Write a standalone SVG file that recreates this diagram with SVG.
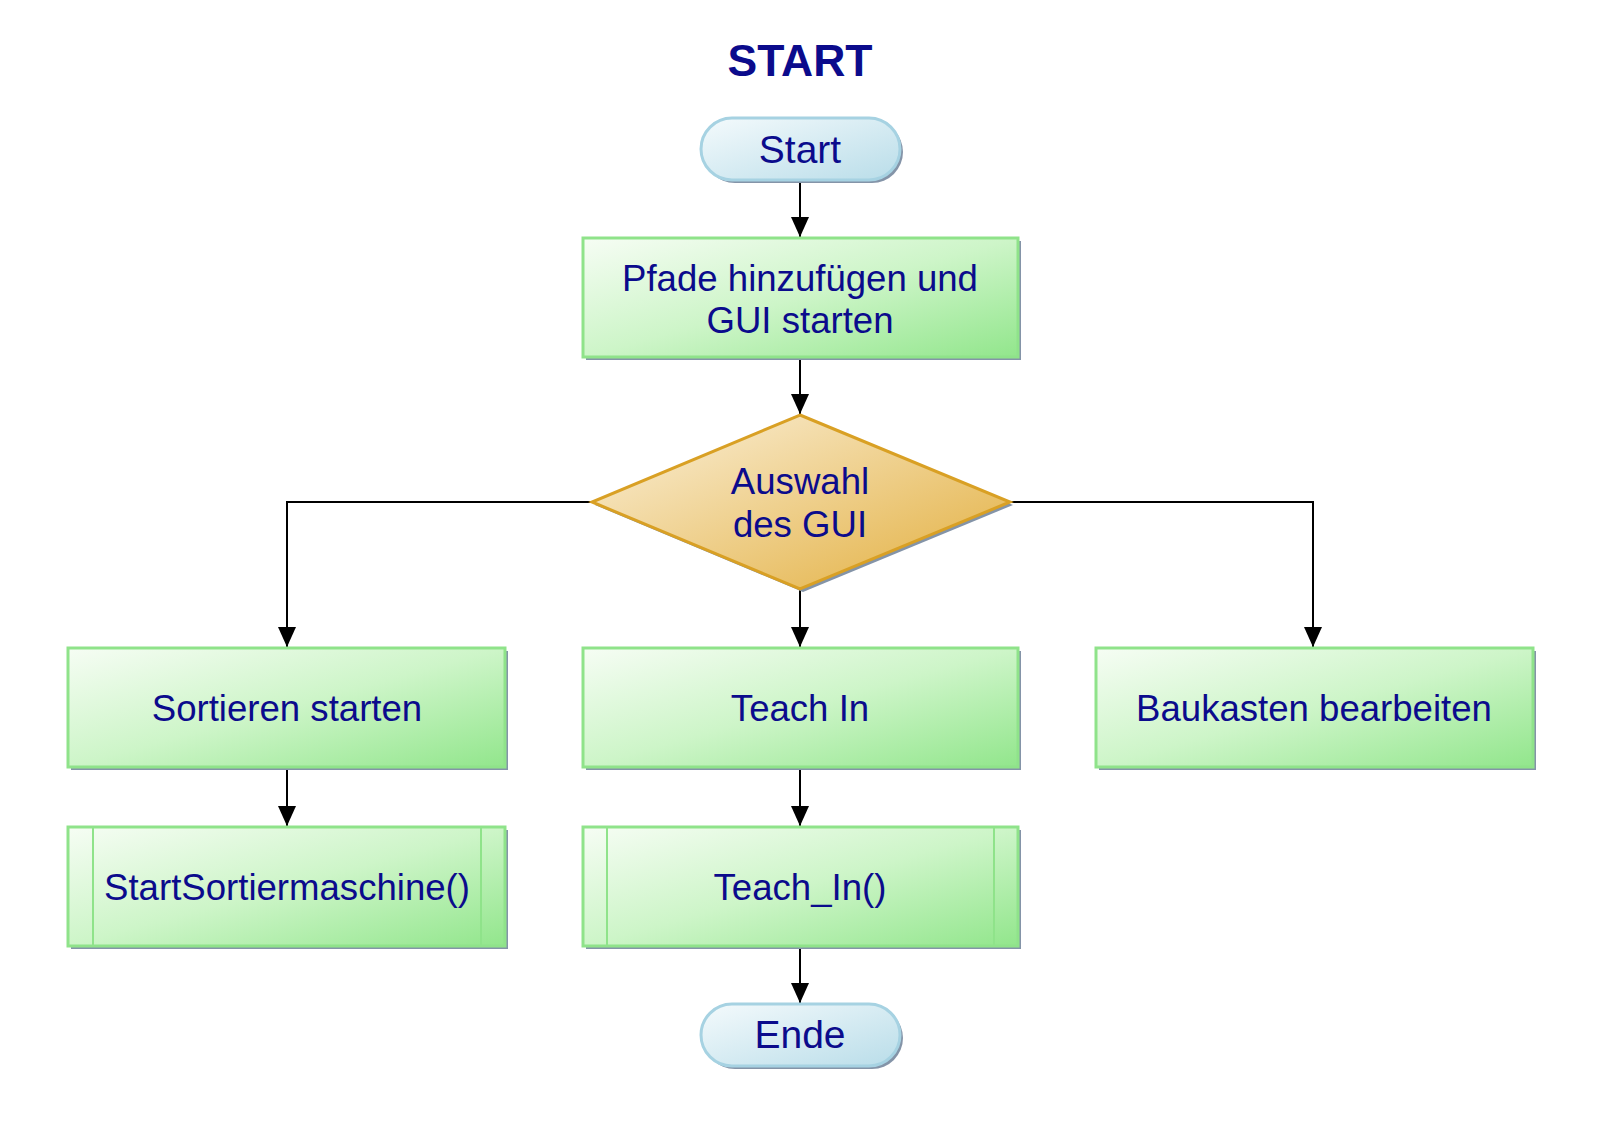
<svg xmlns="http://www.w3.org/2000/svg" width="1600" height="1122" viewBox="0 0 1600 1122">
<defs>
<linearGradient id="gGreen" x1="0" y1="0" x2="1" y2="1">
<stop offset="0" stop-color="#f6fdf4"/>
<stop offset="0.5" stop-color="#cdf5c8"/>
<stop offset="1" stop-color="#92e68c"/>
</linearGradient>
<linearGradient id="gBlue" x1="0" y1="0" x2="1" y2="1">
<stop offset="0" stop-color="#f4fafc"/>
<stop offset="1" stop-color="#b9dde9"/>
</linearGradient>
<linearGradient id="gGold" x1="0" y1="0" x2="1" y2="1">
<stop offset="0" stop-color="#fbf1dc"/>
<stop offset="1" stop-color="#e2ae3c"/>
</linearGradient>
<marker id="arr" markerWidth="22" markerHeight="22" viewBox="0 0 22 22" refX="20" refY="11" orient="auto" markerUnits="userSpaceOnUse">
<path d="M0,2 L20,11 L0,20 Z" fill="#000"/>
</marker>
</defs>
<style>
.t{font-family:"Liberation Sans",Arial,sans-serif;font-size:36.6px;fill:#0b0b8c;text-anchor:middle}
.tt{font-family:"Liberation Sans",Arial,sans-serif;font-size:39px;fill:#0b0b8c;text-anchor:middle}
.title{font-family:"Liberation Sans",Arial,sans-serif;font-size:44.5px;font-weight:bold;fill:#0b0b8c;text-anchor:middle}
.box{fill:url(#gGreen);stroke:#8fe38a;stroke-width:3}
.term{fill:url(#gBlue);stroke:#a6d2e2;stroke-width:3}
.dec{fill:url(#gGold);stroke:#d9a024;stroke-width:3}
.sh{fill:#8494a8}
.inner{stroke:#8fe38a;stroke-width:2;fill:none}
.c{stroke:#000;stroke-width:2;fill:none;marker-end:url(#arr)}
</style>
<rect width="1600" height="1122" fill="#fff"/>
<text class="title" x="800" y="76">START</text>

<g id="connectors">
<path class="c" d="M800,180 V237"/>
<path class="c" d="M800,357 V414"/>
<path class="c" d="M592,502 H287 V647"/>
<path class="c" d="M1010,502 H1313 V647"/>
<path class="c" d="M800,589 V647"/>
<path class="c" d="M287,767 V826"/>
<path class="c" d="M800,767 V826"/>
<path class="c" d="M800,946 V1003"/>
</g>

<g id="start">
<rect class="sh" x="704" y="121" width="199" height="62" rx="31"/>
<rect class="term" x="701" y="118" width="199" height="62" rx="31"/>
<text class="tt" x="800" y="163">Start</text>
</g>

<g id="pfade">
<rect class="sh" x="586" y="241" width="435" height="119"/>
<rect class="box" x="583" y="238" width="435" height="119"/>
<text class="t" x="800" y="291">Pfade hinzufügen und</text>
<text class="t" x="800" y="333">GUI starten</text>
</g>

<g id="auswahl">
<polygon class="sh" points="803,418 1013,505 803,592 595,505"/>
<polygon class="dec" points="800,415 1010,502 800,589 592,502"/>
<text class="t" x="800" y="494">Auswahl</text>
<text class="t" x="800" y="537">des GUI</text>
</g>

<g id="sortieren">
<rect class="sh" x="71" y="651" width="437" height="119"/>
<rect class="box" x="68" y="648" width="437" height="119"/>
<text class="t" x="287" y="721">Sortieren starten</text>
</g>

<g id="teachin">
<rect class="sh" x="586" y="651" width="435" height="119"/>
<rect class="box" x="583" y="648" width="435" height="119"/>
<text class="t" x="800" y="721">Teach In</text>
</g>

<g id="baukasten">
<rect class="sh" x="1099" y="651" width="437" height="119"/>
<rect class="box" x="1096" y="648" width="437" height="119"/>
<text class="t" x="1314" y="721">Baukasten bearbeiten</text>
</g>

<g id="startsortiermaschine">
<rect class="sh" x="71" y="830" width="437" height="119"/>
<rect class="box" x="68" y="827" width="437" height="119"/>
<line class="inner" x1="93" y1="828" x2="93" y2="945"/>
<line class="inner" x1="481" y1="828" x2="481" y2="945"/>
<text class="t" x="287" y="900">StartSortiermaschine()</text>
</g>

<g id="teach_in">
<rect class="sh" x="586" y="830" width="435" height="119"/>
<rect class="box" x="583" y="827" width="435" height="119"/>
<line class="inner" x1="607" y1="828" x2="607" y2="945"/>
<line class="inner" x1="994" y1="828" x2="994" y2="945"/>
<text class="t" x="800" y="900">Teach_In()</text>
</g>

<g id="ende">
<rect class="sh" x="704" y="1007" width="199" height="62" rx="31"/>
<rect class="term" x="701" y="1004" width="199" height="62" rx="31"/>
<text class="tt" x="800" y="1048">Ende</text>
</g>
</svg>
